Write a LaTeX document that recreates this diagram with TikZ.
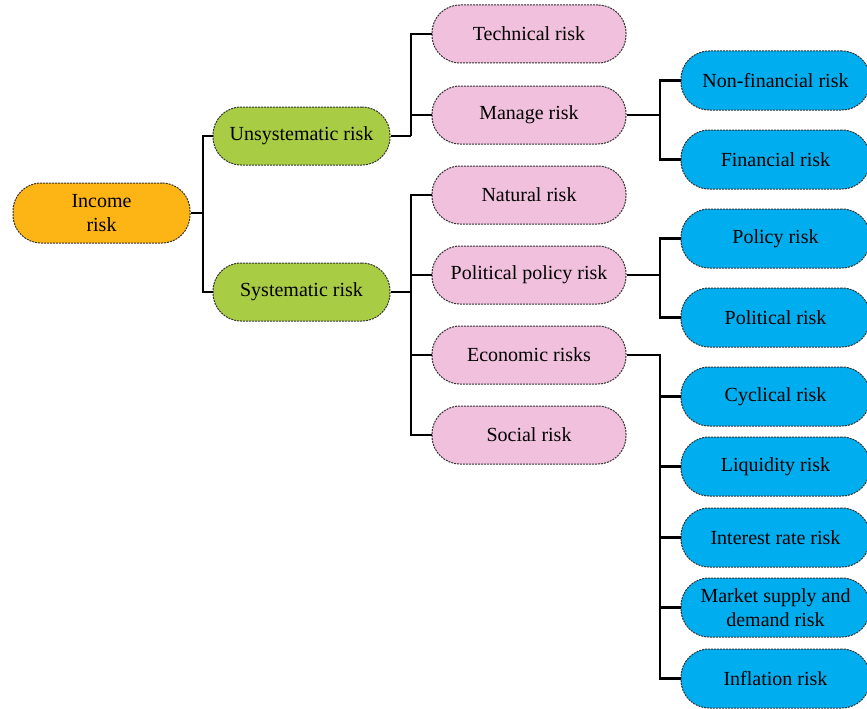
\documentclass[tikz,border=0pt]{standalone}
\usepackage{fontspec}
\setmainfont{Liberation Serif}
\begin{document}
\begin{tikzpicture}[x=1pt,y=-1pt,
  box/.style={draw=black!80, dash pattern=on 2pt off 1pt, line width=1pt,
    rounded corners=28pt, minimum height=58pt, align=center,
    inner sep=0pt, font=\fontsize{20}{24}\selectfont},
  orangebox/.style={box, fill=orangeC, minimum width=177pt, minimum height=60pt},
  greenbox/.style={box, fill=greenC, minimum width=177pt},
  pinkbox/.style={box, fill=pinkC, minimum width=194pt},
  bluebox/.style={box, fill=blueC, minimum width=189pt, minimum height=59pt},
  link/.style={line width=2.2pt, black}]
\definecolor{orangeC}{HTML}{FDB515}
\definecolor{greenC}{HTML}{A9CC45}
\definecolor{pinkC}{HTML}{F0C0DC}
\definecolor{blueC}{HTML}{00AEEF}
\useasboundingbox (0,0) rectangle (867,709);
\clip (0,0) rectangle (867,709);

\node[orangebox] (inc) at (101.5,213) {Income\\risk};
\node[greenbox] (uns) at (301.5,136) {Unsystematic risk};
\node[greenbox] (sys) at (301.5,292) {Systematic risk};

\node[pinkbox] (tec) at (529,34) {Technical risk};
\node[pinkbox] (man) at (529,115) {Manage risk};
\node[pinkbox] (nat) at (529,195) {Natural risk};
\node[pinkbox] (pol) at (529,275) {Political policy risk};
\node[pinkbox] (eco) at (529,355) {Economic risks};
\node[pinkbox] (soc) at (529,435) {Social risk};

\node[bluebox] (nfi) at (775.5,80.5) {Non-financial risk};
\node[bluebox] (fin) at (775.5,159.5) {Financial risk};
\node[bluebox] (pcy) at (775.5,238.5) {Policy risk};
\node[bluebox] (plt) at (775.5,317.5) {Political risk};
\node[bluebox] (cyc) at (775.5,396.5) {Cyclical risk};
\node[bluebox] (liq) at (775.5,466.5) {Liquidity risk};
\node[bluebox] (int) at (775.5,537.5) {Interest rate risk};
\node[bluebox] (mkt) at (775.5,607.5) {Market supply and\\demand risk};
\node[bluebox] (inf) at (775.5,678.5) {Inflation risk};

% Income -> level 1
\coordinate (j0) at (203,213);
\draw[link] (inc.east) -- (j0);
\draw[link] (uns.west) -| (j0) |- (sys.west);

% Unsystematic
\coordinate (j1) at (411,136);
\draw[link] (uns.east) -- (j1);
\draw[link] (tec.west) -| (j1);
\draw[link] (j1 |- man.west) -- (man.west);

% Systematic
\coordinate (j2) at (411,292);
\draw[link] (sys.east) -- (j2);
\draw[link] (nat.west) -| (j2) |- (soc.west);
\draw[link] (j2 |- pol.west) -- (pol.west);
\draw[link] (j2 |- eco.west) -- (eco.west);

% Manage
\coordinate (j3) at (660,115);
\draw[link] (man.east) -- (j3);
\draw[link] (nfi.west) -| (j3) |- (fin.west);

% Political policy
\coordinate (j4) at (660,275);
\draw[link] (pol.east) -- (j4);
\draw[link] (pcy.west) -| (j4) |- (plt.west);

% Economic
\coordinate (j5) at (660,355);
\draw[link] (eco.east) -- (j5) |- (inf.west);
\foreach \n in {cyc,liq,int,mkt}
  \draw[link] (j5 |- \n.west) -- (\n.west);
\end{tikzpicture}
\end{document}
